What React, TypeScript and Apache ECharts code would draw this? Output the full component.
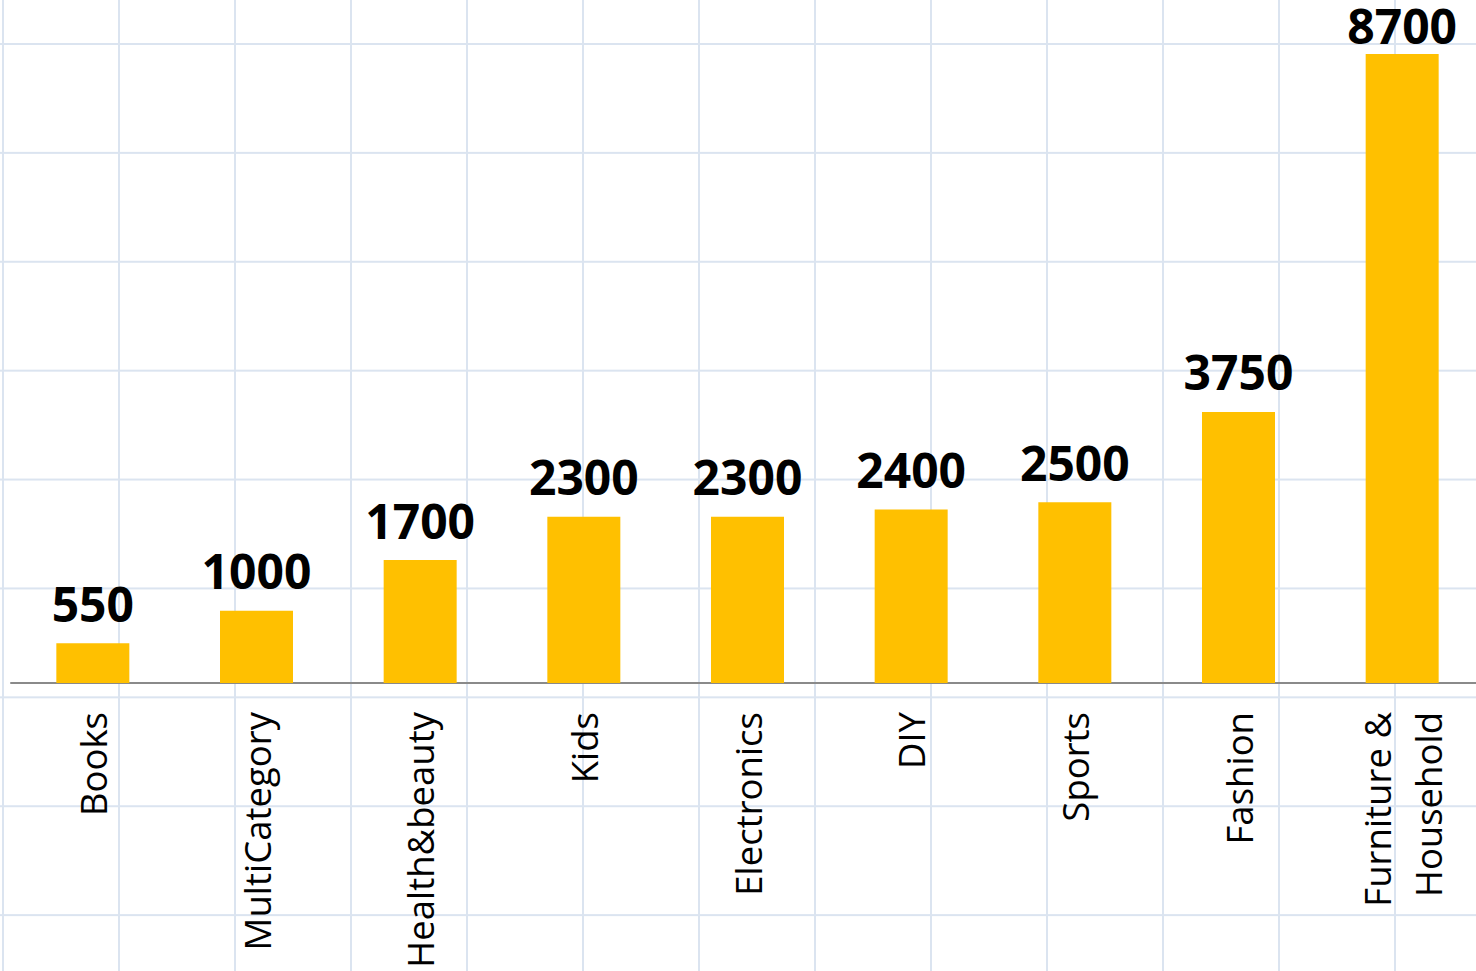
import React, { useEffect, useRef } from "react";
import * as echarts from "echarts";

const categories: string[] = [
  "Books",
  "MultiCategory",
  "Health&beauty",
  "Kids",
  "Electronics",
  "DIY",
  "Sports",
  "Fashion",
  "Furniture & Household",
];
const values: number[] = [550, 1000, 1700, 2300, 2300, 2400, 2500, 3750, 8700];
const yMin = 0;
const yMax = 8700;

export default function App() {
  const ref = useRef<HTMLDivElement>(null);
  useEffect(() => {
    if (!ref.current) return;
    const chart = echarts.init(ref.current, null, { renderer: "svg" });
    const last = values.length - 1;
    chart.setOption({
      animation: false,
      grid: { left: 11, right: 0, top: 54, bottom: 288, containLabel: false },
      xAxis: {
        type: "category",
        data: categories,
        axisLine: { show: true, lineStyle: { color: "#8a8a8a", width: 2 } },
        axisTick: { show: false },
        splitLine: { show: false },
        axisLabel: {
          rotate: 90,
          margin: 29,
          interval: 0,
          fontFamily: "Open Sans",
          fontSize: 36.5,
          lineHeight: 51,
          color: "#000",
          formatter: (v: string) => v.replace(" & ", " &\n"),
        },
      },
      yAxis: {
        type: "value",
        min: yMin,
        max: yMax,
        show: false,
        splitLine: { show: false },
      },
      series: [
        {
          type: "bar",
          barWidth: 73,
          itemStyle: { color: "#FFC000" },
          label: {
            show: true,
            position: "top",
            distance: 16,
            fontFamily: "Open Sans",
            fontWeight: "bold",
            fontSize: 48,
            lineHeight: 48,
            color: "#000",
          },
          data: values.map((v, i) =>
            i === last ? { value: v, label: { distance: 5 } } : v
          ),
        },
      ],
    });
    return () => chart.dispose();
  }, []);
  return (
    <div
      style={{
        position: "fixed",
        left: 0,
        top: 0,
        width: 1476,
        height: 971,
        overflow: "hidden",
        background: "#fff",
        backgroundImage:
          "linear-gradient(to right, #dbe4f0 2px, transparent 2px), linear-gradient(to bottom, #dbe4f0 2px, transparent 2px)",
        backgroundSize: "116px 100%, 100% 108.9px",
        backgroundPosition: "2px 0, 0 43px",
      }}
    >
      <div ref={ref} style={{ width: 1484, height: 971 }} />
    </div>
  );
}
